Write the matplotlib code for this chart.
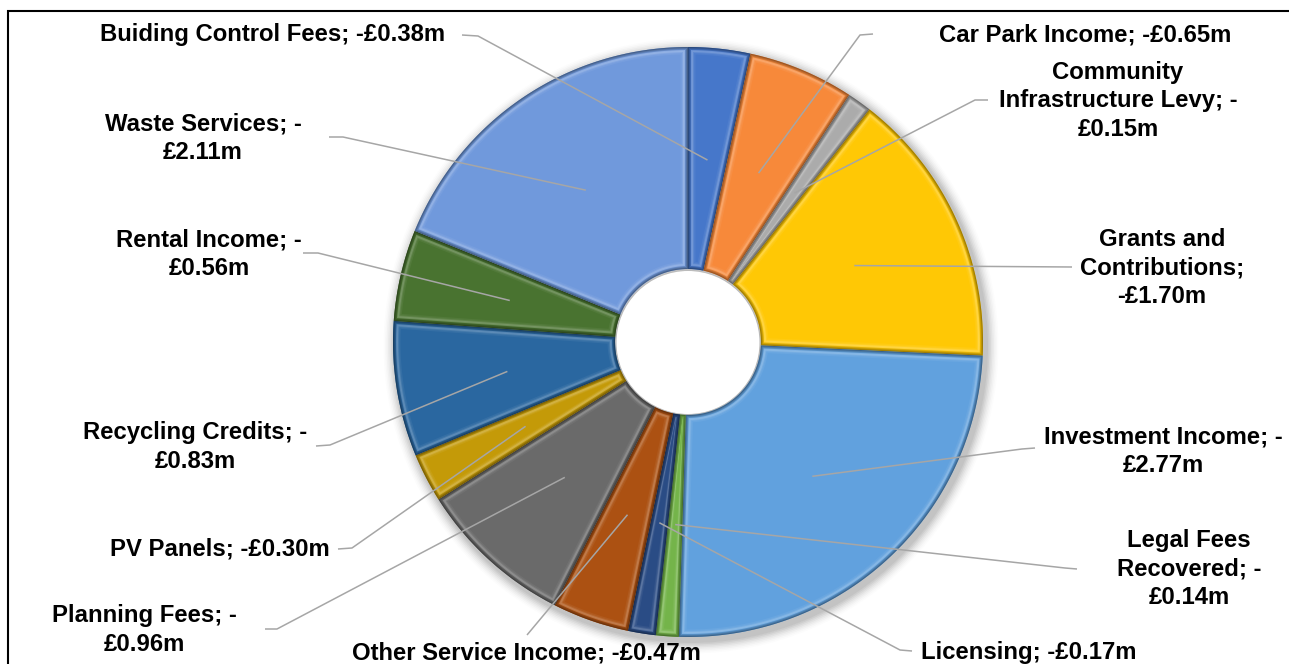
import numpy as np
import matplotlib
matplotlib.use("Agg")
import matplotlib.pyplot as plt
from matplotlib.patches import Polygon, Circle
from matplotlib.colors import to_rgb

plt.rcParams['font.family'] = ['Liberation Sans', 'DejaVu Sans']

# Income sources (£m, shown as negatives in the labels)
categories = ["Buiding Control Fees", "Car Park Income", "Community Infrastructure Levy",
              "Grants and Contributions", "Investment Income", "Legal Fees Recovered",
              "Licensing", "Other Service Income", "Planning Fees", "PV Panels",
              "Recycling Credits", "Rental Income", "Waste Services"]
values = [0.38, 0.65, 0.15, 1.70, 2.77, 0.14, 0.17, 0.47, 0.96, 0.30, 0.83, 0.56, 2.11]
label_texts = ["Buiding Control Fees; -£0.38m",
               "Car Park Income; -£0.65m",
               "Community\nInfrastructure Levy; -\n£0.15m",
               "Grants and\nContributions;\n-£1.70m",
               "Investment Income; -\n£2.77m",
               "Legal Fees\nRecovered; -\n£0.14m",
               "Licensing; -£0.17m",
               "Other Service Income; -£0.47m",
               "Planning Fees; -\n£0.96m",
               "PV Panels; -£0.30m",
               "Recycling Credits; -\n£0.83m",
               "Rental Income; -\n£0.56m",
               "Waste Services; -\n£2.11m"]
colors = ["#4677CA", "#F7893A", "#ABABAB", "#FFC805", "#61A1DE", "#74B44A", "#2A4C85",
          "#AC5112", "#6A6A6A", "#C49A08", "#2A67A0", "#497330", "#7099DC"]

W, H = 1289, 664
fig = plt.figure(figsize=(W / 100, H / 100), dpi=100)
ax = fig.add_axes([0, 0, 1, 1])

# pixel-style coordinates (y measured from the top)
def Y(y):
    return H - y

cx, cy = 688, Y(342)
R_out, R_in = 295, 73

# soft shadow behind the ring
for i, a in enumerate(np.linspace(0.05, 0.012, 8)):
    ax.add_patch(Circle((cx + 3, cy - 4), R_out + 2 + i * 1.5, color="#000000", alpha=a,
                        lw=0, zorder=0))

wedges, _ = ax.pie(values, colors=colors, startangle=90, counterclock=False,
                   radius=R_out, center=(cx, cy),
                   wedgeprops=dict(width=R_out - R_in, linewidth=0))
for w in wedges:
    w.set_zorder(1)


def shade(c, f):
    r = np.array(to_rgb(c))
    if f < 1:
        return tuple(r * f)
    return tuple(r + (1 - r) * (f - 1))


def inset_poly(t1, t2, d):
    ro, ri = R_out - d, R_in + d
    a1, a2 = np.radians(t1), np.radians(t2)
    do, di = d / ro, d / ri
    if a2 - a1 - 2 * di <= 0.002:
        di = (a2 - a1) / 2 - 0.001
    if a2 - a1 - 2 * do <= 0.002:
        do = (a2 - a1) / 2 - 0.001
    to = np.linspace(a1 + do, a2 - do, 80)
    ti = np.linspace(a2 - di, a1 + di, 40)
    pts = np.concatenate([np.c_[cx + ro * np.cos(to), cy + ro * np.sin(to)],
                          np.c_[cx + ri * np.cos(ti), cy + ri * np.sin(ti)]])
    return pts


# bevelled edges: dark rim, light ridge, then flat face
steps = [(0.0, 0.62), (1.0, 0.75), (2.0, 0.88), (3.0, 1.2), (4.0, 1.25),
         (5.0, 1.13), (6.0, 1.05), (7.5, 1.0)]
for w, c in zip(wedges, colors):
    t1, t2 = w.theta1, w.theta2
    for k, (d, f) in enumerate(steps):
        ax.add_patch(Polygon(inset_poly(t1, t2, d), closed=True, fc=shade(c, f),
                             ec="none", lw=0, zorder=2 + k))

# hole with a faint inner shadow
for i, a in enumerate(np.linspace(0.04, 0.0, 4)):
    ax.add_patch(Circle((cx, cy - 1), R_in - i * 1.0, color="#000000", alpha=a, lw=0, zorder=20))
ax.add_patch(Circle((cx, cy - 0.5), R_in - 1.5, color="white", lw=0, zorder=21))

# label text positions and leader-line elbows
text_pos = [(273, 35), (1085, 35), (1118, 101), (1162, 268), (1163, 451), (1189, 569),
            (1029, 652), (526, 653), (144, 630), (220, 549), (195, 447), (209, 254),
            (203, 138)]
leader_start = [(462, 35), (873, 34), (988, 100), (1072, 267), (1035, 448), (1077, 569),
                (912, 651), (527, 635), (265, 629), (338, 549), (316, 446), (303, 253),
                (329, 137)]
leader_elbow = [(478, 36), (860, 35), (975, 100), None, (1022, 449), (1065, 568),
                (900, 650), None, (277, 629), (352, 548), (330, 445), (318, 253),
                (343, 137)]

r_anchor = 183
for w, txt, tp, ls, le in zip(wedges, label_texts, text_pos, leader_start, leader_elbow):
    mid = np.radians((w.theta1 + w.theta2) / 2)
    axp, ayp = cx + r_anchor * np.cos(mid), cy + r_anchor * np.sin(mid)
    xs = [ls[0]]
    ys = [Y(ls[1])]
    if le is not None:
        xs.append(le[0])
        ys.append(Y(le[1]))
    xs.append(axp)
    ys.append(ayp)
    ax.plot(xs, ys, color="#A6A6A6", lw=1.1, zorder=30, solid_capstyle="butt")
    ax.text(tp[0], Y(tp[1]), txt, ha="center", va="center", multialignment="center",
            fontsize=17.2, fontweight="bold", color="black", linespacing=1.28, zorder=31)

# chart frame
ax.plot([8, 8, W + 5], [-5, Y(11), Y(11)], color="black", lw=1.5, zorder=40,
        solid_joinstyle="miter")

ax.set_xlim(0, W)
ax.set_ylim(0, H)
ax.set_aspect("auto")
ax.axis("off")
fig.savefig("out.png", dpi=100)
